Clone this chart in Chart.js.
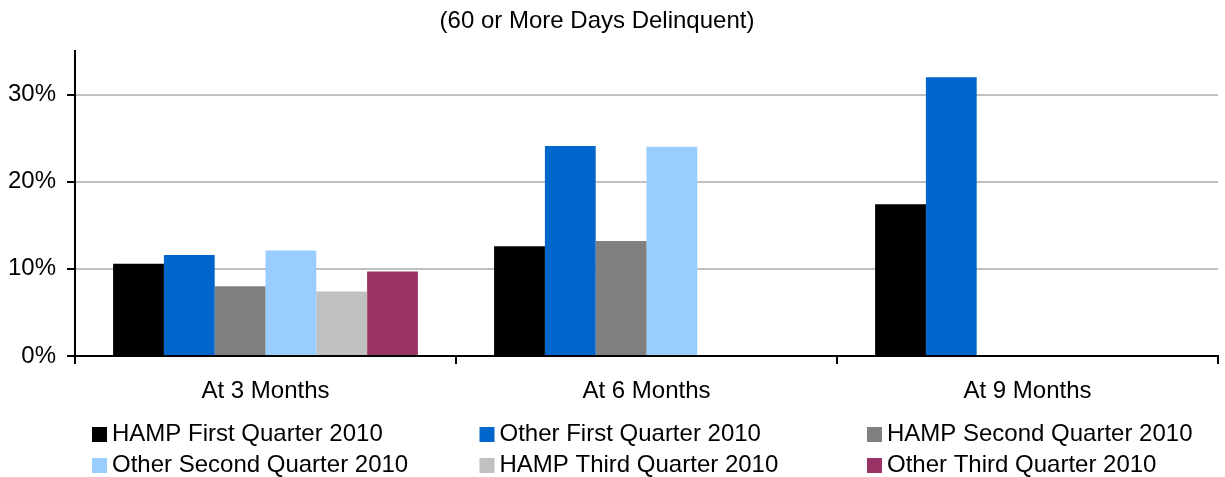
<!DOCTYPE html>
<html>
<head>
<meta charset="utf-8">
<title>60 or More Days Delinquent</title>
<script src="https://cdn.jsdelivr.net/npm/chart.js@4/dist/chart.umd.min.js"></script>
<style>
  html, body { margin: 0; padding: 0; background: #fff; }
  canvas { display: block; }
</style>
</head>
<body>
<canvas id="chart" width="1225" height="477"></canvas>
<script>
const categories = ['At 3 Months', 'At 6 Months', 'At 9 Months'];
const seriesNames = [
  'HAMP First Quarter 2010', 'Other First Quarter 2010', 'HAMP Second Quarter 2010',
  'Other Second Quarter 2010', 'HAMP Third Quarter 2010', 'Other Third Quarter 2010'
];
const hampQ1 = [10.6, 12.6, 17.4];
const otherQ1 = [11.6, 24.1, 32.0];
const hampQ2 = [8.0, 13.2, null];
const otherQ2 = [12.1, 24.0, null];
const hampQ3 = [7.4, null, null];
const otherQ3 = [9.7, null, null];
const yTicks = [0, 10, 20, 30];
const titleText = '(60 or More Days Delinquent)';

const colors = ['#000000', '#0066CC', '#808080', '#99CCFF', '#C0C0C0', '#993366'];
const FONT = '"Liberation Sans", Arial, sans-serif';
Chart.defaults.font.family = FONT;
Chart.defaults.color = '#000';

// title + 3-column legend, drawn straight on the canvas
const extras = {
  id: 'extras',
  afterDraw(chart) {
    const ctx = chart.ctx;
    ctx.save();
    ctx.font = '24px ' + FONT;
    ctx.fillStyle = '#000';
    ctx.textBaseline = 'alphabetic';
    ctx.textAlign = 'center';
    ctx.fillText(titleText, 597, 28);
    ctx.textAlign = 'left';
    chart.data.datasets.forEach((ds, i) => {
      const x = 92 + (i % 3) * 387.5;
      const base = 441 + Math.floor(i / 3) * 31;
      ctx.fillStyle = ds.backgroundColor;
      ctx.fillRect(x, base - 14, 15, 15);
      ctx.fillStyle = '#000';
      ctx.fillText(ds.label, x + 20, base);
    });
    ctx.restore();
  }
};

const values = [hampQ1, otherQ1, hampQ2, otherQ2, hampQ3, otherQ3];

new Chart(document.getElementById('chart'), {
  type: 'bar',
  data: {
    labels: categories,
    datasets: values.map((d, i) => ({
      label: seriesNames[i],
      data: d,
      backgroundColor: colors[i],
      borderWidth: 0,
      categoryPercentage: 0.8,
      barPercentage: 1.0
    }))
  },
  options: {
    responsive: false,
    animation: false,
    layout: { padding: { top: 51, right: 7, left: 0, bottom: 0 } },
    plugins: { legend: { display: false }, title: { display: false }, tooltip: { enabled: false } },
    scales: {
      x: {
        grid: { drawOnChartArea: false, offset: true, tickLength: 8, color: '#000', tickColor: '#000', lineWidth: 2 },
        border: { color: '#000', width: 2 },
        ticks: { color: '#000', font: { size: 24 }, padding: 13 },
        afterFit: s => { s.height = 121; }
      },
      y: {
        min: 0,
        max: 35,
        ticks: { stepSize: 10, color: '#000', font: { size: 24 }, padding: 11, callback: v => v + '%' },
        grid: { color: '#C0C0C0', lineWidth: 2, tickColor: '#000', tickLength: 8 },
        border: { color: '#000', width: 2 },
        afterBuildTicks: s => { s.ticks = s.ticks.filter(t => yTicks.includes(t.value)); },
        afterFit: s => { s.width = 75; }
      }
    }
  },
  plugins: [extras]
});
</script>
</body>
</html>
